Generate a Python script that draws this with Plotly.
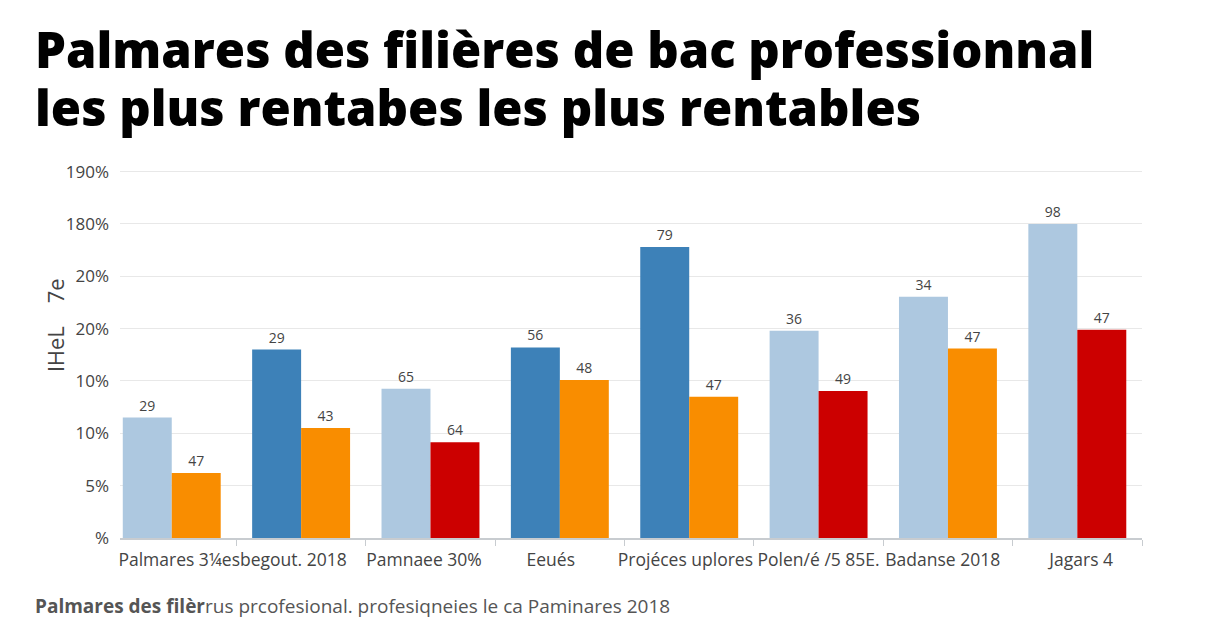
import plotly.graph_objects as go

# group positions (0..7) and the two bars of each group
groups = [0, 1, 2, 3, 4, 5, 6, 7]

first_values = [2.30, 3.60, 2.85, 3.64, 5.56, 3.96, 4.61, 6.00]
first_labels = ["29", "29", "65", "56", "79", "36", "34", "98"]
first_colors = ["#adc8e0", "#3d81b8", "#adc8e0", "#3d81b8", "#3d81b8", "#adc8e0", "#adc8e0", "#adc8e0"]

second_values = [1.24, 2.10, 1.83, 3.02, 2.70, 2.81, 3.62, 3.98]
second_labels = ["47", "43", "64", "48", "47", "49", "47", "47"]
second_colors = ["#f98d00", "#f98d00", "#cc0000", "#f98d00", "#f98d00", "#cc0000", "#f98d00", "#cc0000"]

y_tickvals = [0, 1, 2, 3, 4, 5, 6, 7]
y_ticktext = ["%", "5%", "10%", "10%", "20%", "20%", "180%", "190%"]

x_label_pos = [0.47, 1.95, 2.93, 4.46, 5.96, 7.03]
x_label_text = ["Palmares 3¼esbegout. 2018", "Pamnaee 30%", "Eeués",
                "Projéces uplores Polen/é /5 85E.", "Badanse 2018", "Jagars 4"]
x_boundaries = [0.5, 1.5, 2.5, 3.5, 4.5, 5.5, 6.5, 7.5]

fig = go.Figure()
fig.add_trace(go.Bar(x=groups, y=first_values, text=first_labels,
                     marker=dict(color=first_colors, line=dict(width=0))))
fig.add_trace(go.Bar(x=groups, y=second_values, text=second_labels,
                     marker=dict(color=second_colors, line=dict(width=0))))
fig.update_traces(textposition="outside", cliponaxis=False,
                  textfont=dict(family="Open Sans", size=14, color="#444444"),
                  hoverinfo="skip")

fig.update_layout(
    width=1216, height=640,
    margin=dict(l=112, r=82, t=161, b=110),
    paper_bgcolor="white", plot_bgcolor="white",
    barmode="group", bargap=0.243, bargroupgap=0,
    showlegend=False,
    font=dict(family="Open Sans", color="#444444"),
    xaxis=dict(range=[-0.4, 7.5], tickvals=x_label_pos, ticktext=x_label_text,
               tickangle=0, automargin=False,
               ticks="", showgrid=False, zeroline=False, ticklabelstandoff=5,
               showline=True, linecolor="#c8ccd0", linewidth=1.5,
               tickfont=dict(family="Open Sans", size=17.5, color="#444444"),
               minor=dict(tickvals=x_boundaries, ticks="outside", ticklen=6,
                          tickcolor="#c8ccd0", showgrid=False)),
    yaxis=dict(range=[0, 7.05], tickvals=y_tickvals, ticktext=y_ticktext,
               automargin=False,
               showgrid=True, gridcolor="#e8e8e8", gridwidth=1,
               zeroline=False, showline=False, ticks="",
               ticklabelstandoff=10,
               tickfont=dict(family="Open Sans", size=17, color="#444444")),
)

title_font = dict(family="Open Sans", size=49, weight=800, color="#000000")
fig.add_annotation(text="Palmares des filières de bac professionnal",
                   xref="paper", yref="paper", x=-0.0851, y=1.324, xanchor="left", yanchor="middle",
                   showarrow=False, font=title_font)
fig.add_annotation(text="les plus rentabes les plus rentables",
                   xref="paper", yref="paper", x=-0.0851, y=1.168, xanchor="left", yanchor="middle",
                   showarrow=False, font=title_font)
fig.add_annotation(text="lHeL    7e", textangle=-90,
                   xref="paper", yref="paper", x=-0.0636, y=0.575, xanchor="center", yanchor="middle",
                   showarrow=False, font=dict(family="Open Sans", size=22, color="#444444"))
fig.add_annotation(text="<b>Palmares des filèr</b>rus prcofesional. profesiqneies le ca Paminares 2018",
                   xref="paper", yref="paper", x=-0.0851, y=-0.183, xanchor="left", yanchor="middle",
                   showarrow=False, font=dict(family="Open Sans", size=19, color="#555555"))

fig.write_html("out.html")
